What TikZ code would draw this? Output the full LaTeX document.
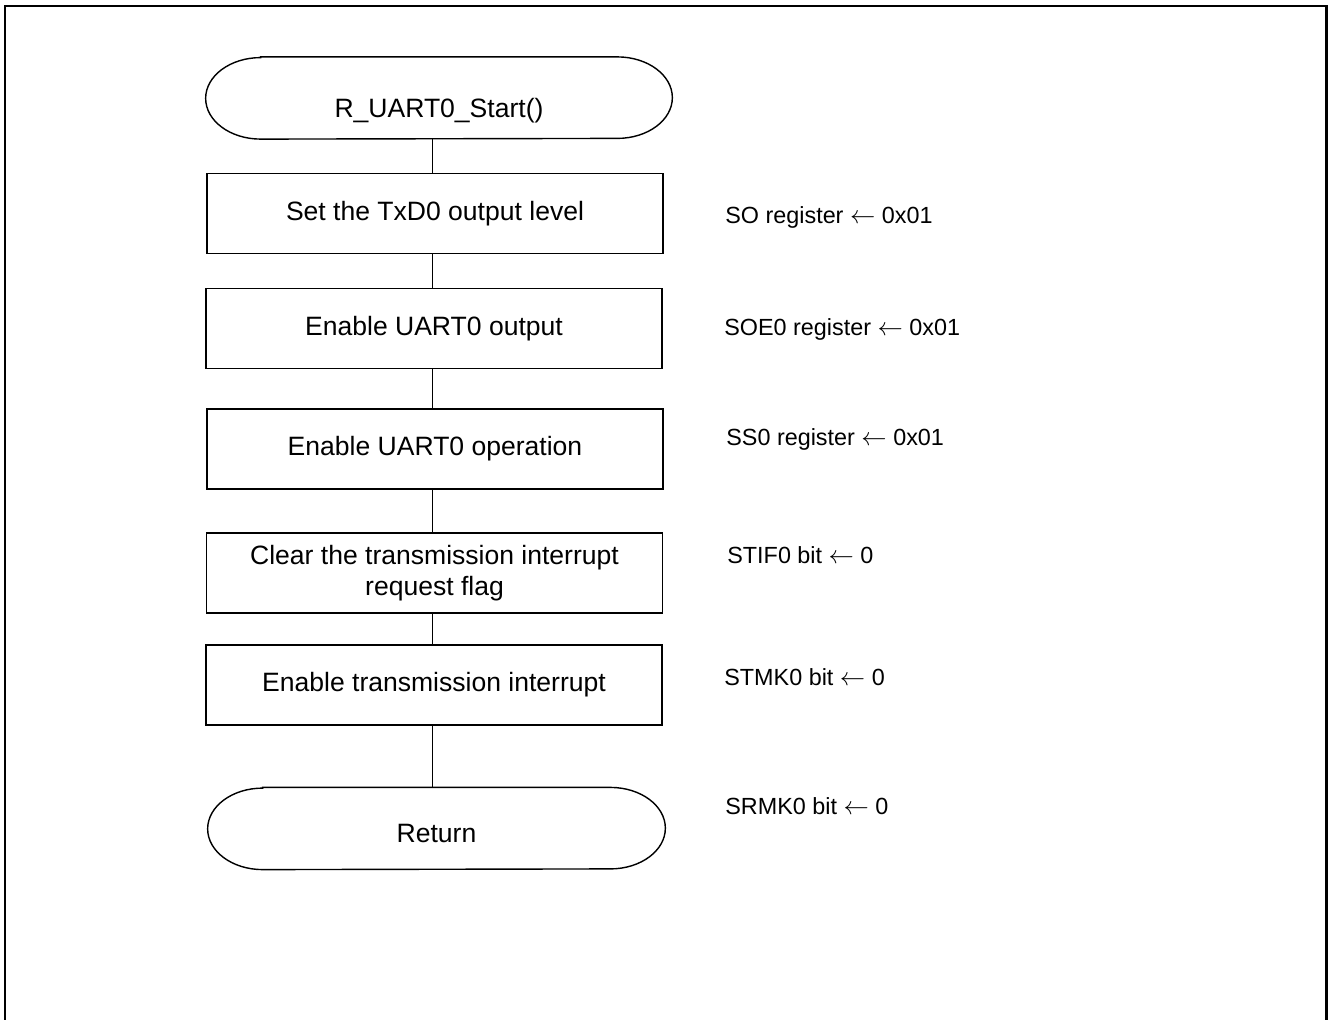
\documentclass[tikz,border=0pt]{standalone}
\usepackage{fontspec}
\setmainfont{Liberation Sans}
\newcommand{\drawterminal}[1]{%
    \draw [line width=0.8pt] ([xshift=1.1cm]#1.north west) -- ([xshift=-1.1cm]#1.north east)
        arc [start angle=90, end angle=-90, x radius=1.1cm, y radius=0.815cm]
        -- ([xshift=1.1cm]#1.south west)
        arc [start angle=270, end angle=90, x radius=1.1cm, y radius=0.815cm] -- cycle;}

\begin{document}
\begin{tikzpicture}
    [
        box/.style = {draw, shape=rectangle, minimum height=1.6cm, minimum width=9.12cm, line width=1.1pt, align=center, font=\fontsize{15.1}{17.6}\selectfont},
        terminal/.style = {shape=rectangle, minimum height=1.63cm, minimum width=9.32cm, font=\fontsize{15.1}{17.6}\selectfont},
        note/.style = {anchor=base west, inner sep=0pt, font=\fontsize{13.3}{16}\selectfont},
        link/.style = {line width=0.45pt},
    ]

    \useasboundingbox (0,0) rectangle (26.56,-20.38);
    \draw [line width=1.2pt] (0.10,-20.8) -- (0.10,-0.12) -- (26.53,-0.12) -- (26.53,-20.8);

    \coordinate (spine) at (8.64,0);

    \node[terminal, text height=0.86cm, text depth=0.1cm] (start) at (8.78,-1.96) {R\_UART0\_Start()};
    \node[box] (b1) at (8.70,-4.27)  {Set the TxD0 output level};
    \node[box] (b2) at (8.68,-6.57)  {Enable UART0 output};
    \node[box] (b3) at (8.70,-8.98)  {Enable UART0 operation};
    \node[box] (b4) at (8.69,-11.46) {Clear the transmission interrupt\\request flag};
    \node[box] (b5) at (8.68,-13.70) {Enable transmission interrupt};
    \node[terminal, minimum width=9.14cm, text height=0.55cm, text depth=0cm] (ret) at (8.73,-16.57) {Return};

    \drawterminal{start}
    \drawterminal{ret}

    \node[note] (n1) at (14.50,-4.46)  {SO register $\leftarrow$ 0x01};
    \node[note] (n2) at (14.48,-6.70)  {SOE0 register $\leftarrow$ 0x01};
    \node[note] (n3) at (14.52,-8.90)  {SS0 register $\leftarrow$ 0x01};
    \node[note] (n4) at (14.54,-11.26) {STIF0 bit $\leftarrow$ 0};
    \node[note] (n5) at (14.48,-13.70) {STMK0 bit $\leftarrow$ 0};
    \node[note] (n6) at (14.50,-16.28) {SRMK0 bit $\leftarrow$ 0};

    \draw [link] (start.south -| spine) -- (b1.north -| spine);
    \draw [link] (b1.south -| spine) -- (b2.north -| spine);
    \draw [link] (b2.south -| spine) -- (b3.north -| spine);
    \draw [link] (b3.south -| spine) -- (b4.north -| spine);
    \draw [link] (b4.south -| spine) -- (b5.north -| spine);
    \draw [link] (b5.south -| spine) -- (ret.north -| spine);
\end{tikzpicture}
\end{document}
